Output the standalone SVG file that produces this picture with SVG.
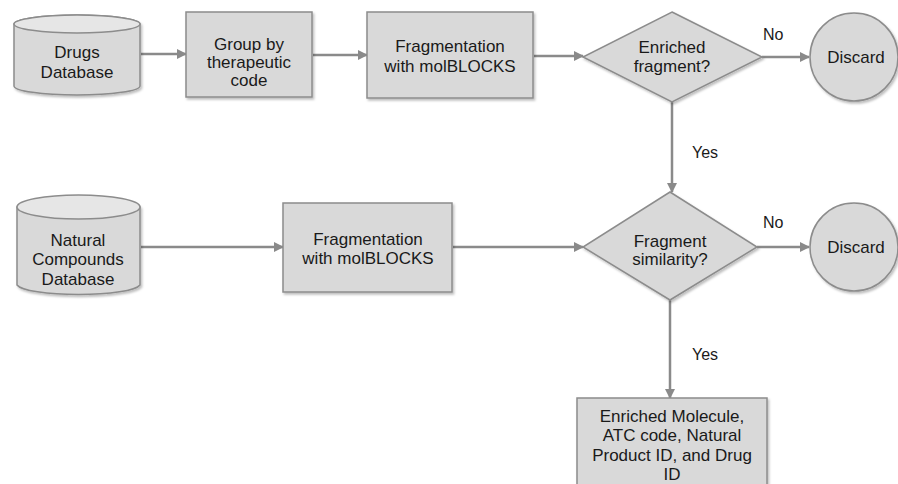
<svg xmlns="http://www.w3.org/2000/svg" width="898" height="484" viewBox="0 0 898 484">
<defs>
<marker id="ah" viewBox="0 0 10 10" refX="9" refY="5" markerWidth="10" markerHeight="10" markerUnits="userSpaceOnUse" orient="auto">
<path d="M0,0 L10,5 L0,10 z" fill="#8a8a8a"/>
</marker>
<filter id="sh" x="-10%" y="-10%" width="125%" height="125%">
<feDropShadow dx="1.5" dy="2" stdDeviation="1" flood-color="#000" flood-opacity="0.25"/>
</filter>
</defs>
<style>
.s{fill:#d9d9d9;stroke:#8c8c8c;stroke-width:1.5;filter:url(#sh)}
.t{font-family:"Liberation Sans",Arial,sans-serif;font-size:17px;fill:#1a1a1a;text-anchor:middle}
.l{font-family:"Liberation Sans",Arial,sans-serif;font-size:16px;fill:#1a1a1a}
.c{stroke:#8a8a8a;stroke-width:2.5;fill:none;marker-end:url(#ah)}
</style>
<rect width="898" height="484" fill="#fff"/>
<g id="connectors">
<line class="c" x1="141" y1="54" x2="186" y2="54"/>
<line class="c" x1="313" y1="55" x2="367" y2="55"/>
<line class="c" x1="534" y1="56" x2="583" y2="56"/>
<line class="c" x1="762" y1="57" x2="809" y2="57"/>
<line class="c" x1="672" y1="102" x2="672" y2="192"/>
<line class="c" x1="141" y1="247" x2="283" y2="247"/>
<line class="c" x1="453" y1="247" x2="583" y2="247"/>
<line class="c" x1="757" y1="247" x2="809" y2="247"/>
<line class="c" x1="670" y1="300" x2="670" y2="398"/>
<text class="l" x="763" y="40">No</text>
<text class="l" x="692" y="158">Yes</text>
<text class="l" x="763" y="228">No</text>
<text class="l" x="692" y="360">Yes</text>
</g>
<g id="drugs-db">
<path class="s" d="M14,24 A63,9 0 0 1 140,24 L140,86 A63,9 0 0 1 14,86 Z"/>
<ellipse cx="77" cy="24" rx="63" ry="9" fill="#e6e6e6" stroke="#8c8c8c" stroke-width="1.5"/>
<text class="t" x="77" y="58">Drugs</text>
<text class="t" x="77" y="78">Database</text>
</g>
<g id="group-by">
<rect class="s" x="186" y="12" width="126" height="85"/>
<text class="t" x="249" y="50">Group by</text>
<text class="t" x="249" y="68">therapeutic</text>
<text class="t" x="249" y="86">code</text>
</g>
<g id="frag1">
<rect class="s" x="367" y="12" width="166" height="86"/>
<text class="t" x="450" y="52">Fragmentation</text>
<text class="t" x="450" y="72">with molBLOCKS</text>
</g>
<g id="enriched">
<polygon class="s" points="672,12 762,57 672,102 583,57"/>
<text class="t" x="672" y="53">Enriched</text>
<text class="t" x="672" y="72">fragment?</text>
</g>
<g id="discard1">
<circle class="s" cx="854" cy="57" r="44"/>
<text class="t" x="856" y="63">Discard</text>
</g>
<g id="natural-db">
<path class="s" d="M17,207 A62,12 0 0 1 140,207 L140,285 A62,11 0 0 1 17,285 Z"/>
<ellipse cx="78.5" cy="207" rx="61.5" ry="12" fill="#e6e6e6" stroke="#8c8c8c" stroke-width="1.5"/>
<text class="t" x="78" y="246">Natural</text>
<text class="t" x="78" y="265">Compounds</text>
<text class="t" x="78" y="285">Database</text>
</g>
<g id="frag2">
<rect class="s" x="283" y="203" width="169" height="89"/>
<text class="t" x="368" y="245">Fragmentation</text>
<text class="t" x="368" y="264">with molBLOCKS</text>
</g>
<g id="similarity">
<polygon class="s" points="670,192 757,247 670,300 583,247"/>
<text class="t" x="670" y="247">Fragment</text>
<text class="t" x="670" y="265">similarity?</text>
</g>
<g id="discard2">
<circle class="s" cx="854" cy="247" r="44"/>
<text class="t" x="856" y="253">Discard</text>
</g>
<g id="result">
<rect class="s" x="577" y="398" width="190" height="100"/>
<text class="t" x="672" y="422">Enriched Molecule,</text>
<text class="t" x="672" y="441">ATC code, Natural</text>
<text class="t" x="672" y="461">Product ID, and Drug</text>
<text class="t" x="672" y="480">ID</text>
</g>
</svg>
